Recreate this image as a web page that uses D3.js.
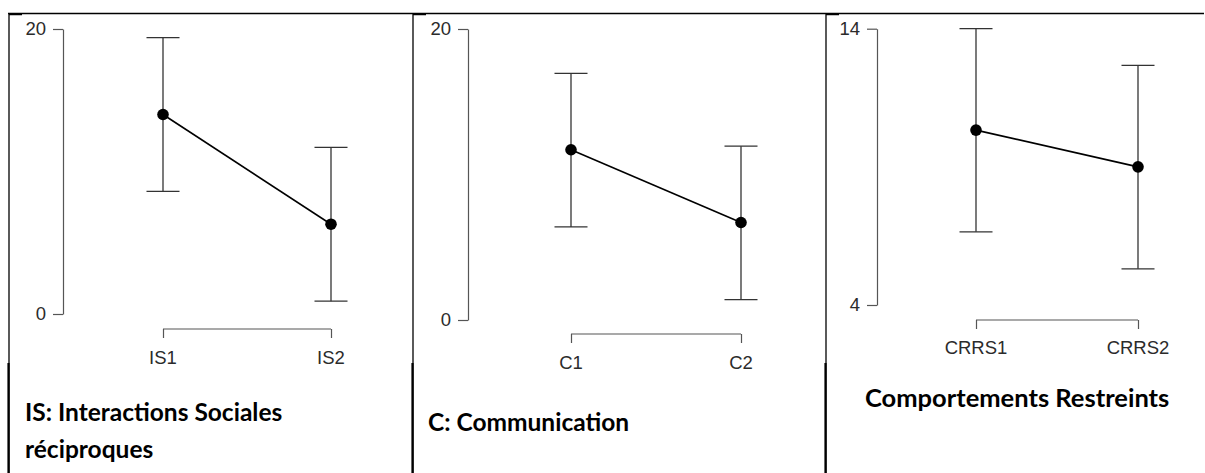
<!DOCTYPE html>
<html>
<head>
<meta charset="utf-8">
<script src="https://cdn.jsdelivr.net/npm/d3@7/dist/d3.min.js"></script>
<style>
  html, body { margin: 0; padding: 0; background: #fff; }
  svg { display: block; }
</style>
</head>
<body>
<svg id="chart" width="1205" height="473"></svg>
<script>
// ---- Data ----
const categoriesIS = ["IS1", "IS2"];
const meansIS = [14.0, 6.3];
const upperIS = [19.4, 11.7];
const lowerIS = [8.6, 0.9];
const yTicksIS = [0, 20];
const captionIS = ["IS: Interactions Sociales", "réciproques"];

const categoriesC = ["C1", "C2"];
const meansC = [11.7, 6.7];
const upperC = [16.95, 11.95];
const lowerC = [6.4, 1.4];
const yTicksC = [0, 20];
const captionC = ["C: Communication"];

const categoriesCR = ["CRRS1", "CRRS2"];
const meansCR = [10.33, 9.0];
const upperCR = [14.0, 12.67];
const lowerCR = [6.65, 5.31];
const yTicksCR = [4, 14];
const captionCR = ["Comportements Restreints"];

// ---- Layout ----
const TICK_FONT = "'Liberation Sans', Arial, sans-serif";
const CAP_FONT = "Lato, 'Open Sans', sans-serif";
const TICK_SIZE = 18.5;

const panels = [
  { cats: categoriesIS, means: meansIS, up: upperIS, lo: lowerIS, ticks: yTicksIS, caption: captionIS,
    axisX: 63, yTop: 29, yBot: 314, x1: 163, x2: 331, bracketY: 329, labelY: 364,
    capX: 25, capY: 421, capSize: 24.5 },
  { cats: categoriesC, means: meansC, up: upperC, lo: lowerC, ticks: yTicksC, caption: captionC,
    axisX: 468, yTop: 29, yBot: 320, x1: 571, x2: 741, bracketY: 334, labelY: 369,
    capX: 428, capY: 431, capSize: 24.5 },
  { cats: categoriesCR, means: meansCR, up: upperCR, lo: lowerCR, ticks: yTicksCR, caption: captionCR,
    axisX: 877, yTop: 28.7, yBot: 305, x1: 976, x2: 1138, bracketY: 320, labelY: 354,
    capX: 865, capY: 407, capSize: 25.5 }
];

const svg = d3.select("#chart");

// table borders
const border = svg.append("g");
border.append("line").attr("x1", 8).attr("x2", 1204).attr("y1", 13.5).attr("y2", 13.5)
  .attr("stroke", "#000").attr("stroke-width", 1.5);
[9, 413, 826].forEach(x => {
  border.append("line").attr("x1", x).attr("x2", x).attr("y1", 13).attr("y2", 473)
    .attr("stroke", "#000").attr("stroke-width", 1.3);
  border.append("line").attr("x1", x - 0.5).attr("x2", x - 0.5).attr("y1", 363).attr("y2", 473)
    .attr("stroke", "#000").attr("stroke-width", 2.2);
  border.append("line").attr("x1", x).attr("x2", x + 13).attr("y1", 14.5).attr("y2", 14.5)
    .attr("stroke", "#000").attr("stroke-width", 1.5);
});

panels.forEach(p => {
  const g = svg.append("g");
  const y = d3.scaleLinear().domain(d3.extent(p.ticks)).range([p.yBot, p.yTop]);
  const x = d3.scalePoint().domain(p.cats).range([p.x1, p.x2]);

  // y axis
  const yAxis = d3.axisLeft(y).tickValues(p.ticks).tickSize(10).tickPadding(7).tickSizeOuter(0);
  const ya = g.append("g").attr("transform", `translate(${p.axisX},0)`).call(yAxis)
    .attr("font-family", TICK_FONT).attr("font-size", TICK_SIZE);
  ya.select(".domain").attr("stroke", "#555").attr("stroke-width", 1.2);
  ya.selectAll(".tick line").attr("stroke", "#555").attr("stroke-width", 1.2);
  ya.selectAll(".tick text").attr("fill", "#2b2b2b").attr("dy", "0.3em");

  // x axis (bracket)
  const xAxis = d3.axisBottom(x).tickSize(-9).tickSizeOuter(0).tickFormat("");
  const xa = g.append("g").attr("transform", `translate(0,${p.bracketY + 9})`).call(xAxis);
  xa.select(".domain").remove();
  xa.selectAll(".tick line").attr("stroke", "#555").attr("stroke-width", 1.2);
  g.append("line").attr("x1", x(p.cats[0])).attr("x2", x(p.cats[1]))
    .attr("y1", p.bracketY).attr("y2", p.bracketY).attr("stroke", "#555").attr("stroke-width", 1.2);
  g.selectAll(".xlab").data(p.cats).enter().append("text")
    .attr("font-family", TICK_FONT).attr("font-size", TICK_SIZE).attr("fill", "#2b2b2b")
    .attr("x", d => x(d)).attr("y", p.labelY)
    .attr("text-anchor", "middle").text(d => d);

  // error bars
  const capW = 16.5;
  p.cats.forEach((c, i) => {
    const cx = x(c);
    g.append("line").attr("x1", cx).attr("x2", cx).attr("y1", y(p.up[i])).attr("y2", y(p.lo[i]))
      .attr("stroke", "#333").attr("stroke-width", 1.3);
    [p.up[i], p.lo[i]].forEach(v => {
      g.append("line").attr("x1", cx - capW).attr("x2", cx + capW).attr("y1", y(v)).attr("y2", y(v))
        .attr("stroke", "#333").attr("stroke-width", 1.3);
    });
  });

  // line
  const line = d3.line().x((d, i) => x(p.cats[i])).y(d => y(d));
  g.append("path").datum(p.means).attr("d", line).attr("fill", "none")
    .attr("stroke", "#000").attr("stroke-width", 1.6);

  // points
  g.selectAll(".pt").data(p.means).enter().append("circle")
    .attr("cx", (d, i) => x(p.cats[i])).attr("cy", d => y(d)).attr("r", 5.8).attr("fill", "#000");

  // caption
  p.caption.forEach((t, i) => {
    svg.append("text").attr("font-family", CAP_FONT).attr("font-weight", 700)
      .attr("font-size", p.capSize).attr("fill", "#000")
      .attr("x", p.capX).attr("y", p.capY + i * 37).text(t);
  });
});
</script>
</body>
</html>
